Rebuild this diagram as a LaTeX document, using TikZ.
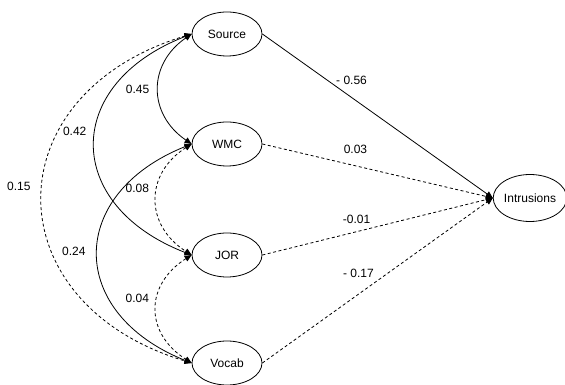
\documentclass[tikz,border=0pt]{standalone}
\usepackage{fontspec}
\setmainfont{Liberation Sans}
\usetikzlibrary{arrows.meta,shapes.geometric}
\tikzset{
	var/.style={draw,ellipse,minimum width=70pt,minimum height=44pt,inner sep=0pt,font=\fontsize{12}{14}\selectfont},
	lbl/.style={font=\fontsize{12}{14}\selectfont,inner sep=1pt},
	cov/.style={{Triangle[length=7pt,width=6pt]}-{Triangle[length=7pt,width=6pt]}},
	reg/.style={-{Triangle[length=7pt,width=6pt]}},
	dsh/.style={dash pattern=on 3pt off 2.5pt}
}
\begin{document}
\begin{tikzpicture}[x=1pt,y=1pt,line width=0.8pt]
			\useasboundingbox (0,0) rectangle (565,385);
			\node[var] (src) at (227,351) {Source};
			\node[var] (wmc) at (227,241) {WMC};
			\node[var] (jor) at (227,130) {JOR};
			\node[var] (voc) at (227,22) {Vocab};
			\node[var,minimum width=66pt,minimum height=47pt] (int) at (530,187) {Intrusions};
			% correlations
			\draw[cov] (src.west) .. controls +(-44,-30) and +(-44,30) .. (wmc.west) node[lbl,pos=0.5,left=8pt]{0.45};
			\draw[cov] (src.west) .. controls +(-129,-50) and +(-129,50) .. (jor.west) node[lbl,pos=0.45,left=8pt]{0.42};
			\draw[cov,dsh] (src.west) .. controls +(-199,-60) and +(-199,60) .. (voc.west) node[lbl,pos=0.47,left=11pt]{0.15};
			\draw[cov,dsh] (wmc.west) .. controls +(-47,-30) and +(-47,30) .. (jor.west) node[lbl,pos=0.41,left=7pt]{0.08};
			\draw[cov] (wmc.west) .. controls +(-125,-50) and +(-125,50) .. (voc.west) node[lbl,pos=0.49,left=11pt]{0.24};
			\draw[cov,dsh] (jor.west) .. controls +(-47,-30) and +(-47,30) .. (voc.west) node[lbl,pos=0.41,left=7pt]{0.04};
			% paths
			\draw[reg] (src.east) -- (int.west) node[lbl,pos=0.387,yshift=17pt]{- 0.56};
			\draw[reg,dsh] (wmc.east) -- (int.west) node[lbl,pos=0.404,yshift=16pt]{0.03};
			\draw[reg,dsh] (jor.east) -- (int.west) node[lbl,pos=0.409,yshift=12pt]{-0.01};
			\draw[reg,dsh] (voc.east) -- (int.west) node[lbl,pos=0.417,yshift=21pt]{- 0.17};
		\end{tikzpicture}
\end{document}
